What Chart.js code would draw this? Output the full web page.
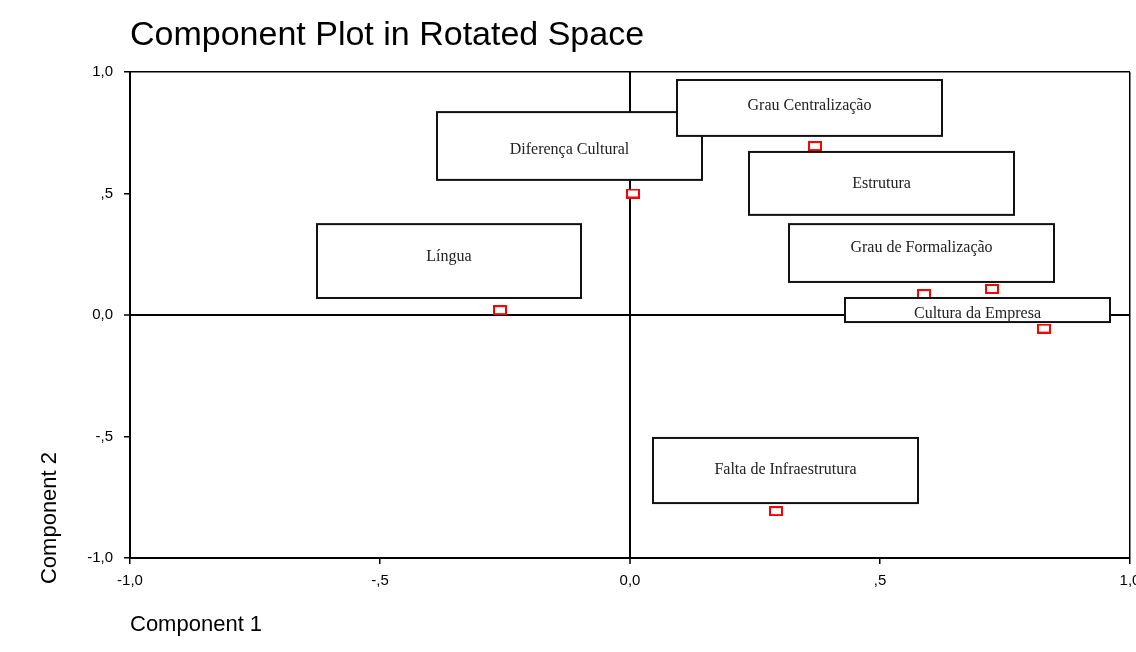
<!DOCTYPE html>
<html>
<head>
<meta charset="utf-8">
<script src="https://cdn.jsdelivr.net/npm/chart.js@4/dist/chart.umd.min.js"></script>
<style>
  html, body { margin: 0; padding: 0; background: #fff; }
  canvas { display: block; }
</style>
</head>
<body>
<canvas id="plot" width="1136" height="652"></canvas>
<script>
const variables = ['Língua', 'Diferença Cultural', 'Grau Centralização', 'Estrutura',
  'Grau de Formalização', 'Cultura da Empresa', 'Falta de Infraestrutura'];
const component1 = [-0.26, 0.006, 0.37, 0.724, 0.588, 0.828, 0.292];
const component2 = [0.02, 0.50, 0.695, 0.107, 0.086, -0.056, -0.807];
const tickLabels = ['-1,0', '-,5', '0,0', ',5', '1,0'];

// label boxes in data units: [left, right, top, bottom, textY]
const labelBoxes = [
  [-0.626, -0.098, 0.374, 0.070, 0.239],
  [-0.386, 0.144, 0.835, 0.556, 0.679],
  [0.094, 0.624, 0.967, 0.737, 0.860],
  [0.238, 0.768, 0.671, 0.412, 0.539],
  [0.318, 0.848, 0.374, 0.136, 0.276],
  [0.430, 0.960, 0.070, -0.029, 0.004],
  [0.046, 0.576, -0.506, -0.774, -0.638]
];

const sansFont = 'Arial, "Liberation Sans", sans-serif';
const serifFont = '"Times New Roman", "Liberation Serif", serif';

// small red hollow rectangle marker
const marker = document.createElement('canvas');
marker.width = 14;
marker.height = 10;
const mctx = marker.getContext('2d');
mctx.fillStyle = '#fff';
mctx.fillRect(1, 1, 12, 8);
mctx.strokeStyle = '#ff0000';
mctx.lineWidth = 2;
mctx.strokeRect(1, 1, 12, 8);

const points = component1.map((x, i) => ({ x: x, y: component2[i] }));

function gridColor(c) {
  const v = c.tick ? c.tick.value : null;
  return (v === 0 || v === 1) ? '#000' : 'rgba(0,0,0,0)';
}
function gridWidth(c) {
  const v = c.tick ? c.tick.value : null;
  return v === 0 ? 2 : 1.5;
}

const labelsPlugin = {
  id: 'labels',
  afterDatasetsDraw(chart) {
    const ctx = chart.ctx;
    const xs = chart.scales.x, ys = chart.scales.y;
    ctx.save();
    labelBoxes.forEach((b, i) => {
      const l = xs.getPixelForValue(b[0]);
      const r = xs.getPixelForValue(b[1]);
      const t = ys.getPixelForValue(b[2]);
      const bt = ys.getPixelForValue(b[3]);
      ctx.fillStyle = '#fff';
      ctx.fillRect(l, t, r - l, bt - t);
      ctx.strokeStyle = '#111';
      ctx.lineWidth = 2;
      ctx.strokeRect(l, t, r - l, bt - t);
      ctx.fillStyle = '#222';
      ctx.font = '16px ' + serifFont;
      ctx.textAlign = 'center';
      ctx.textBaseline = 'middle';
      ctx.fillText(variables[i], (l + r) / 2, ys.getPixelForValue(b[4]));
    });
    ctx.restore();
  },
  afterDraw(chart) {
    const ctx = chart.ctx;
    const area = chart.chartArea;
    ctx.save();
    ctx.fillStyle = '#000';
    ctx.textBaseline = 'middle';
    ctx.textAlign = 'left';
    ctx.font = '34px ' + sansFont;
    ctx.fillText('Component Plot in Rotated Space', area.left, 36);
    ctx.font = '22px ' + sansFont;
    ctx.fillText('Component 1', area.left, 625);
    ctx.translate(50, 518);
    ctx.rotate(-Math.PI / 2);
    ctx.textAlign = 'center';
    ctx.fillText('Component 2', 0, 0);
    ctx.restore();
  }
};

new Chart(document.getElementById('plot'), {
  type: 'scatter',
  data: {
    datasets: [{
      data: points,
      pointStyle: marker,
      pointRadius: 5,
      pointHoverRadius: 5,
      showLine: false
    }]
  },
  options: {
    responsive: false,
    animation: false,
    layout: { padding: { top: 72, right: 6, left: 0, bottom: 0 } },
    plugins: {
      legend: { display: false },
      tooltip: { enabled: false },
      title: { display: false }
    },
    scales: {
      x: {
        type: 'linear',
        min: -1,
        max: 1,
        afterFit: s => { s.height = 94; s.paddingLeft = 0; s.paddingRight = 0; },
        ticks: {
          stepSize: 0.5,
          color: '#000',
          padding: 8,
          font: { family: sansFont, size: 15 },
          maxRotation: 0,
          callback: v => tickLabels[Math.round((v + 1) * 2)]
        },
        grid: {
          drawOnChartArea: true,
          color: gridColor,
          lineWidth: gridWidth,
          tickColor: '#000',
          tickWidth: 1.5,
          tickLength: 6
        },
        border: { display: true, color: '#000', width: 2 }
      },
      y: {
        type: 'linear',
        min: -1,
        max: 1,
        afterFit: s => { s.width = 130; s.paddingTop = 0; s.paddingBottom = 0; },
        ticks: {
          stepSize: 0.5,
          color: '#000',
          padding: 11,
          font: { family: sansFont, size: 15 },
          callback: v => tickLabels[Math.round((v + 1) * 2)]
        },
        grid: {
          drawOnChartArea: true,
          color: gridColor,
          lineWidth: gridWidth,
          tickColor: '#000',
          tickWidth: 1.5,
          tickLength: 6
        },
        border: { display: true, color: '#000', width: 2 }
      }
    }
  },
  plugins: [labelsPlugin]
});
</script>
</body>
</html>
